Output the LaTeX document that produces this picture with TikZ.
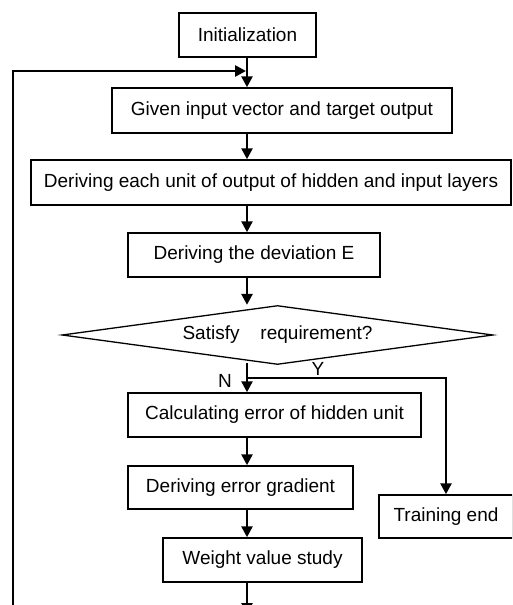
\documentclass[tikz,border=0pt]{standalone}
\usepackage{fontspec}
\setmainfont{Liberation Sans}
\usetikzlibrary{shapes.geometric,arrows.meta}
\begin{document}
\begin{tikzpicture}[x=1pt,y=-1pt,
  box node/.style={rectangle,draw,line width=1.5pt,inner sep=0pt,font=\fontsize{19}{22}\selectfont},
  dia node/.style={diamond,aspect=7.3,draw,line width=1.3pt,inner sep=0pt,font=\fontsize{19}{22}\selectfont},
  arr/.style={line width=2.6pt,-{Triangle[length=11pt,width=11pt]}}]
  \useasboundingbox (0,0) rectangle (512,605);
  \clip (0,0) rectangle (512,605);
  \node[box node,minimum width=137pt,minimum height=44pt] (1) at (247.5,35) {Initialization};
  \node[box node,minimum width=340pt,minimum height=45pt] (2) at (282,110.5) {Given input vector and target output};
  \node[box node,minimum width=480pt,minimum height=45pt] (3) at (271,182.5) {Deriving each unit of output of hidden and input layers};
  \node[box node,minimum width=252pt,minimum height=44pt] (4) at (254,255) {Deriving the deviation E};
  \node[dia node,minimum width=431pt,minimum height=59pt] (5) at (277.5,335) {\raisebox{-5pt}{Satisfy\hspace{1.1em}requirement?}};
  \node[box node,minimum width=293pt,minimum height=44pt] (6) at (274.5,415) {Calculating error of hidden unit};
  \node[box node,minimum width=225pt,minimum height=43pt] (7) at (240.5,487.5) {Deriving error gradient};
  \node[box node,minimum width=199pt,minimum height=44pt] (8) at (262.5,560) {Weight value study};
  \node[box node,minimum width=134pt,minimum height=43pt] (9) at (446,516.5) {Training end};
  \node[font=\fontsize{19}{22}\selectfont] (nl) at (225,381) {N};
  \node[font=\fontsize{19}{22}\selectfont] (yl) at (318,369) {Y};
  % spine and loose ends
  \coordinate (s) at (247,0);
  \coordinate (j) at (246,71);
  \coordinate (b) at (13,615);
  \coordinate (n) at (247,363);
  \coordinate (y) at (247,378);
  \coordinate (e) at (247,614);
  \draw[arr] (1.south -| s) -- (2.north -| s);
  \draw[arr] (b) |- (j);
  \draw[arr] (2.south -| s) -- (3.north -| s);
  \draw[arr] (3.south -| s) -- (4.north -| s);
  \draw[arr] (4.south -| s) -- (s |- 5.north);
  \draw[arr] (n) -- (6.north -| s);
  \draw[arr] (y) -| (9.north);
  \draw[arr] (6.south -| s) -- (7.north -| s);
  \draw[arr] (7.south -| s) -- (8.north -| s);
  \draw[arr] (8.south -| s) -- (e);
\end{tikzpicture}
\end{document}
